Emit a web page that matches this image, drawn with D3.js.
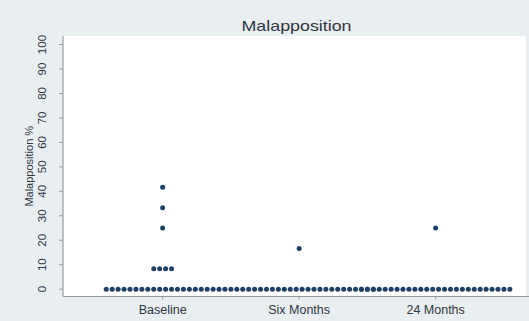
<!DOCTYPE html>
<html>
<head>
<meta charset="utf-8">
<script src="https://cdn.jsdelivr.net/npm/d3@7"></script>
<style>
  html, body { margin: 0; padding: 0; background: #e9eef1; }
  svg { display: block; }
</style>
</head>
<body>
<svg id="chart" width="529" height="321"></svg>
<script>
// Groups along the x axis
const categories = ["Baseline", "Six Months", "24 Months"];
// Malapposition % per stent, one array per group
const baselineValues = [
  0, 0, 0, 0, 0, 0, 0, 0, 0, 0, 0, 0, 0, 0, 0, 0, 0, 0, 0, 0,
  8.33, 8.33, 8.33, 8.33, 25, 33.33, 41.67
];
const sixMonthValues = [
  0, 0, 0, 0, 0, 0, 0, 0, 0, 0, 0, 0, 0, 0, 0, 0, 0, 0, 0, 0,
  0, 0, 0, 0, 0, 0, 16.67
];
const month24Values = [
  0, 0, 0, 0, 0, 0, 0, 0, 0, 0, 0, 0, 0, 0, 0, 0, 0, 0, 0, 0,
  0, 0, 0, 0, 0, 0, 25
];
const yTicks = [0, 10, 20, 30, 40, 50, 60, 70, 80, 90, 100];

const groups = [baselineValues, sixMonthValues, month24Values];

const W = 529, H = 321;
const M = { left: 63, right: 3, top: 36, bottom: 24.5 };

const svg = d3.select("#chart");

// Plot region
svg.append("rect")
  .attr("x", M.left).attr("y", M.top)
  .attr("width", W - M.left - M.right)
  .attr("height", H - M.top - M.bottom)
  .attr("fill", "#ffffff");

// Group positions are 1, 2, 3 on a continuous axis
const x = d3.scaleLinear().domain([0.27, 3.662]).range([M.left, W - M.right]);
const y = d3.scaleLinear().domain([-3, 103.5]).range([H - M.bottom, M.top]);

// Horizontal spacing between stacked dots, in group units
const dotStep = 0.0435;

const dots = [];
groups.forEach((vals, gi) => {
  const bins = d3.group(vals, v => v);
  bins.forEach((arr, v) => {
    const n = arr.length;
    arr.forEach((_, i) => {
      dots.push({ gx: gi + 1 + (i - (n - 1) / 2) * dotStep, v });
    });
  });
});

const font = "Arial, 'Liberation Sans', Helvetica, sans-serif";
const textColor = "#2f3642";
const axisColor = "#9a9a9a";

// Title
svg.append("text")
  .attr("x", (M.left + W - M.right) / 2 + 2).attr("y", 31)
  .attr("text-anchor", "middle")
  .attr("font-family", font).attr("font-size", 15)
  .attr("textLength", 110).attr("lengthAdjust", "spacingAndGlyphs")
  .attr("fill", textColor)
  .text("Malapposition");

// Y axis
const yAxis = svg.append("g");
yAxis.append("line")
  .attr("x1", M.left).attr("x2", M.left)
  .attr("y1", M.top).attr("y2", H - M.bottom)
  .attr("stroke", axisColor).attr("stroke-width", 1.2);
yAxis.selectAll("line.tick").data(yTicks).join("line")
  .attr("class", "tick")
  .attr("x1", M.left - 4).attr("x2", M.left)
  .attr("y1", d => y(d)).attr("y2", d => y(d))
  .attr("stroke", axisColor).attr("stroke-width", 1);
yAxis.selectAll("text").data(yTicks).join("text")
  .attr("transform", d => `translate(45.5,${y(d)}) rotate(-90)`)
  .attr("text-anchor", "middle")
  .attr("font-family", font).attr("font-size", 11.5)
  .attr("fill", textColor)
  .text(d => d);

svg.append("text")
  .attr("transform", `translate(33,${(M.top + H - M.bottom) / 2}) rotate(-90)`)
  .attr("text-anchor", "middle")
  .attr("font-family", font).attr("font-size", 11)
  .attr("fill", textColor)
  .text("Malapposition %");

// X axis
const xAxis = svg.append("g");
xAxis.append("line")
  .attr("x1", M.left).attr("x2", W)
  .attr("y1", H - M.bottom).attr("y2", H - M.bottom)
  .attr("stroke", axisColor).attr("stroke-width", 1.2);
xAxis.selectAll("line.tick").data(categories).join("line")
  .attr("class", "tick")
  .attr("x1", (d, i) => x(i + 1)).attr("x2", (d, i) => x(i + 1))
  .attr("y1", H - M.bottom).attr("y2", H - M.bottom + 3)
  .attr("stroke", axisColor).attr("stroke-width", 1);
xAxis.selectAll("text").data(categories).join("text")
  .attr("x", (d, i) => x(i + 1)).attr("y", 313.5)
  .attr("text-anchor", "middle")
  .attr("font-family", font).attr("font-size", 12.5)
  .attr("fill", textColor)
  .text(d => d);

// Dots
svg.append("g").selectAll("circle").data(dots).join("circle")
  .attr("cx", d => x(d.gx))
  .attr("cy", d => y(d.v))
  .attr("r", 2.5)
  .attr("fill", "#1c3f66");
</script>
</body>
</html>
